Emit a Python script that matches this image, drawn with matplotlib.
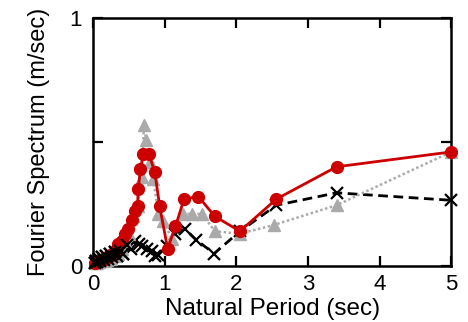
import matplotlib
matplotlib.use("Agg")
import matplotlib.pyplot as plt

# Plot inputs
FIGSIZE = (4.68, 3.22)
DPI = 100
XLABEL = "Natural Period (sec)"
YLABEL = "Fourier Spectrum (m/sec)"
RED = "#cc0000"
GRAY = "#aaaaaa"

# series
red_x = [0.02, 0.05, 0.08, 0.10, 0.13, 0.16, 0.20, 0.23, 0.26, 0.30, 0.35,
         0.40, 0.45, 0.49, 0.54, 0.59, 0.62, 0.63, 0.66, 0.70, 0.78, 0.86,
         0.93, 1.04, 1.15, 1.27, 1.47, 1.70, 2.05, 2.56, 3.40, 5.00]
red_y = [0.01, 0.015, 0.02, 0.02, 0.025, 0.03, 0.035, 0.04, 0.05, 0.06, 0.09,
         0.10, 0.13, 0.15, 0.185, 0.22, 0.24, 0.31, 0.39, 0.45, 0.45, 0.38,
         0.24, 0.07, 0.16, 0.27, 0.28, 0.20, 0.14, 0.27, 0.40, 0.46]

gray_x = [0.02, 0.05, 0.08, 0.12, 0.16, 0.20, 0.25, 0.30, 0.35, 0.40, 0.45,
          0.50, 0.55, 0.62, 0.68, 0.71, 0.74, 0.80, 0.84, 0.91, 0.98, 1.10,
          1.26, 1.38, 1.52, 1.70, 2.05, 2.52, 3.40, 5.00]
gray_y = [0.01, 0.01, 0.015, 0.02, 0.02, 0.025, 0.03, 0.04, 0.05, 0.07, 0.10,
          0.13, 0.20, 0.24, 0.36, 0.57, 0.51, 0.42, 0.35, 0.21, 0.18, 0.11,
          0.21, 0.21, 0.21, 0.14, 0.13, 0.165, 0.245, 0.46]

black_x = [0.02, 0.04, 0.06, 0.08, 0.10, 0.12, 0.15, 0.18, 0.21, 0.24, 0.27,
           0.30, 0.34, 0.38, 0.42, 0.47, 0.53, 0.59, 0.64, 0.68, 0.75, 0.82,
           0.86, 0.91, 1.03, 1.15, 1.28, 1.44, 1.69, 2.05, 2.56, 3.40, 5.00]
black_y = [0.01, 0.02, 0.015, 0.03, 0.02, 0.035, 0.025, 0.04, 0.03, 0.05, 0.035,
           0.055, 0.04, 0.06, 0.05, 0.085, 0.07, 0.10, 0.09, 0.08, 0.07, 0.06,
           0.04, 0.045, 0.08, 0.13, 0.15, 0.105, 0.05, 0.14, 0.245, 0.295, 0.265]


def main():
    plt.rcParams["font.family"] = ["Liberation Sans", "DejaVu Sans"]
    fig = plt.figure(figsize=FIGSIZE, dpi=DPI)
    ax = fig.add_axes([0.199, 0.174, 0.765, 0.770])

    ax.plot(black_x, black_y, color="black", lw=2.0, ls=(0, (3.5, 2)),
            marker="x", ms=9, mew=1.6, clip_on=False, zorder=2)
    ax.plot(gray_x, gray_y, color=GRAY, lw=1.8, ls=(0, (1, 1)),
            marker="^", ms=8, mec=GRAY, mfc=GRAY, clip_on=False, zorder=3)
    ax.plot(red_x, red_y, color=RED, lw=2.0, ls="-",
            marker="o", ms=8.5, mec=RED, mfc=RED, clip_on=False, zorder=4)
    # black crosses drawn again on top near the origin cluster
    ax.plot(black_x[:16], black_y[:16], color="black", lw=0, marker="x",
            ms=9, mew=1.6, clip_on=False, zorder=5)

    ax.set_xlim(0, 5)
    ax.set_ylim(0, 1)
    ax.set_xticks([0, 1, 2, 3, 4, 5])
    ax.set_yticks([0, 0.5, 1])
    ax.set_yticklabels(["0", "", "1"])
    ax.tick_params(direction="in", length=7, width=1.6, top=True, right=True,
                   labelsize=16, pad=6)
    ax.tick_params(axis="y", pad=8)
    for s in ax.spines.values():
        s.set_linewidth(1.8)
    ax.set_xlabel(XLABEL, fontsize=17.5, labelpad=2)
    ax.set_ylabel(YLABEL, fontsize=17, labelpad=14)

    fig.savefig("out.png", dpi=DPI)


if __name__ == "__main__":
    main()
